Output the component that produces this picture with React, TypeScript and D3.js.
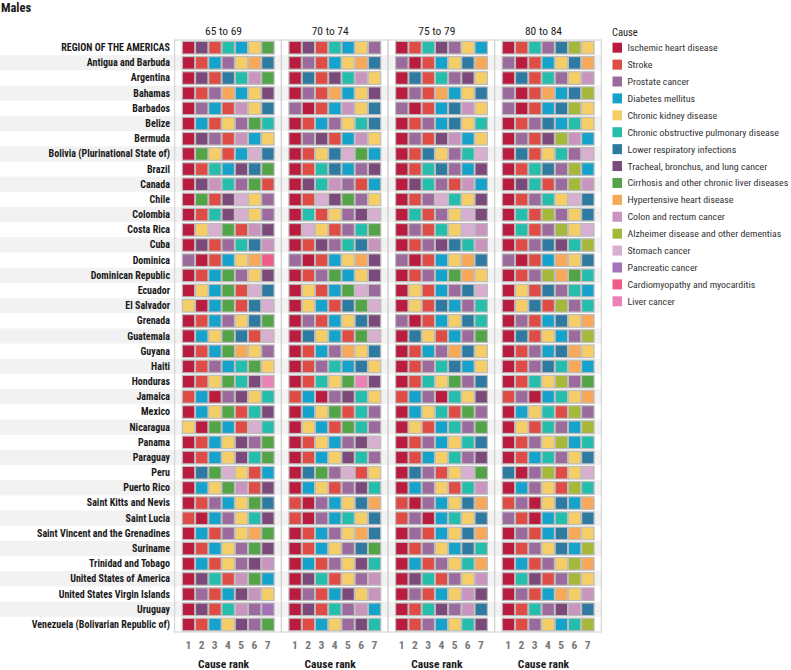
import * as d3 from "d3";

// Leading causes of death, males, ranked 1..7 per age group
const ageGroups = ["65 to 69", "70 to 74", "75 to 79", "80 to 84"];
const ranks = ["1", "2", "3", "4", "5", "6", "7"];

const countries = [
  "REGION OF THE AMERICAS",
  "Antigua and Barbuda",
  "Argentina",
  "Bahamas",
  "Barbados",
  "Belize",
  "Bermuda",
  "Bolivia (Plurinational State of)",
  "Brazil",
  "Canada",
  "Chile",
  "Colombia",
  "Costa Rica",
  "Cuba",
  "Dominica",
  "Dominican Republic",
  "Ecuador",
  "El Salvador",
  "Grenada",
  "Guatemala",
  "Guyana",
  "Haiti",
  "Honduras",
  "Jamaica",
  "Mexico",
  "Nicaragua",
  "Panama",
  "Paraguay",
  "Peru",
  "Puerto Rico",
  "Saint Kitts and Nevis",
  "Saint Lucia",
  "Saint Vincent and the Grenadines",
  "Suriname",
  "Trinidad and Tobago",
  "United States of America",
  "United States Virgin Islands",
  "Uruguay",
  "Venezuela (Bolivarian Republic of)",
];

const causes = [
  "Ischemic heart disease",
  "Stroke",
  "Prostate cancer",
  "Diabetes mellitus",
  "Chronic kidney disease",
  "Chronic obstructive pulmonary disease",
  "Lower respiratory infections",
  "Tracheal, bronchus, and lung cancer",
  "Cirrhosis and other chronic liver diseases",
  "Hypertensive heart disease",
  "Colon and rectum cancer",
  "Alzheimer disease and other dementias",
  "Stomach cancer",
  "Pancreatic cancer",
  "Cardiomyopathy and myocarditis",
  "Liver cancer",
];

// one letter per cause, same order as causes
const causeCodes = ["I", "S", "P", "D", "K", "C", "L", "T", "H", "Y", "R", "A", "G", "N", "M", "V"];

const causeColors = [
  "#b91c3f", "#df4b45", "#9b6b9e", "#16a3cb", "#f5ce67", "#25bdac", "#2f7aa0", "#7c4a7a",
  "#52a447", "#f7a959", "#c995be", "#a5b83a", "#d8afd0", "#a472b9", "#ee5d89", "#eb82b7",
];

// each string = causes at rank 1..7, one string per country
const rank6569 = [
  "ITSCDKH", "ISDPKYL", "ITSLCRH", "ISPYDKT", "IPDSRKL", "IDSKPHC", "ITPSRDK", "IHKSDGL",
  "ISCDTLH", "ITRCPHS", "IHSTGKP", "ISCTGKP", "IKGHSRT", "ITSPCLR", "PISDKYM", "ISDHPKT",
  "IKDHSGL", "KIDHSLG", "ISDPKLH", "IDKHLSG", "ISDHYKP", "ISPDCHK", "ISKHCTV", "SDIPTKC",
  "IDKHSCT", "KIHDSGC", "ISDKTPH", "ISDKTCH", "ILHGKSD", "IDKHRST", "ISPDKHL", "SIDPKCT",
  "IDSPKYH", "ISDKPHT", "IDSKPTR", "ITCSRHD", "IPSDTRK", "ITSCRPN", "ISDKTPH",
];

const rank7074 = [
  "ITSCDKP", "IPSDKYL", "ILSTCRK", "IPSYDKT", "PISDRKL", "ISDPKCL", "IPTSDRK", "ISKLGHD",
  "ISCLDPT", "ITCRPSD", "ISGTHPK", "ICSKPTG", "IGKSPCH", "ISTPCLR", "PISDKYT", "ISPHDKT",
  "IKSDHGP", "IKDSLHG", "IPSDKLT", "ILKDSHG", "ISDPYKL", "ISPCDLK", "ISCKHVT", "SDIPTCK",
  "IDKHSCP", "IKDSHCP", "ISKDPTG", "ISDKTCP", "ILHPGSK", "IDKSPTC", "SIPDKLY", "SIPDCKL",
  "ISDPKYL", "ISDKPLH", "IDSPKTC", "ITCSKPR", "IPSDTKR", "ITSCPRD", "ISDKPTC",
];

const rank7579 = [
  "ISCTPKD", "PISDKLY", "ILSCPTK", "IPSYDKL", "PISDLRK", "ISPDLKC", "IPSTRDK", "ISLKPCG",
  "ISCLPDT", "ITCPSRD", "ISPGCKT", "ICSPKGT", "IPSCKGR", "ISPTLCR", "PISDKYL", "ISPDHYK",
  "IKSDPLG", "IKSLDPC", "PISDKLC", "ILKSDPH", "ISDPYLK", "ISPCLDK", "ISCKHPL", "SDPICKT",
  "IDKCSHP", "IKSDCPH", "ISPDKCL", "ISDKCPT", "ILPSKGH", "IDPKSCR", "SIPDKLY", "SPIDCKL",
  "IPSDKLY", "ISPKDLC", "IDSPKCY", "ITCSPKR", "IPSDKRT", "ISCTPRL", "ISPDKCT",
];

const rank8084 = [
  "ISCPLAK", "PISDKLY", "ILSCPKR", "PISYDLA", "PISDLAK", "ISPLDCK", "IPSTARD", "ILSKCPG",
  "ISCLPAD", "ITCSPAR", "ISPCKGL", "ICSAPKL", "ICSPAKG", "ISPLTCA", "PISDYKL", "ISPAYHC",
  "IKSLPCD", "IKLSAPC", "IPSDLKY", "ILSKDPA", "ISPDLYK", "ISPLCYD", "ISCKAPH", "SPIDCKY",
  "IDKCSAP", "IKSCPDA", "ISPKADC", "ISDCPKL", "LIPASKG", "IDPKSAC", "SPIKLDY", "PSIDCKL",
  "IPSDLYK", "ISPKLDA", "IDSPKAY", "ICTSPAK", "IPSDYKR", "ISCPTRL", "ISPKDCA",
];

const rankTables = [rank6569, rank7074, rank7579, rank8084];

const FONT = "'Liberation Sans Narrow', 'Arial Narrow', 'Roboto Condensed', sans-serif";

export default function App() {
  const width = 791;
  const height = 670;

  const panelX = d3.scaleBand().domain(ageGroups).range([174.7, 601.3]);
  const rowY = d3.scaleBand().domain(countries).range([40, 632]);
  const rankX = d3.scaleBand().domain(ranks).range([7, 7 + 7 * 13.23]);
  const color = d3.scaleOrdinal<string, string>().domain(causeCodes).range(causeColors);
  const legendY = d3.scalePoint().domain(causes).range([47.7, 301.3]);

  const step = rowY.step();
  const panelW = panelX.bandwidth();

  return (
    <svg
      width={width}
      height={height}
      style={{ position: "absolute", left: 0, top: 0, fontFamily: FONT }}
    >
      <rect width={width} height={height} fill="#fff" />
      <text x={1} y={11.5} fontSize={12.5} fontWeight="bold" fill="#1a1a1a">
        Males
      </text>

      {/* row stripes */}
      {countries.map((c, i) =>
        i % 2 === 1 ? (
          <rect key={c} x={0} y={rowY(c)} width={601.3} height={step} fill="#f2f2f2" />
        ) : null
      )}

      {/* row labels */}
      {countries.map((c) => (
        <text
          key={c}
          x={170}
          y={(rowY(c) ?? 0) + step / 2}
          dy="0.35em"
          textAnchor="end"
          fontSize={10}
          fontWeight="bold"
          fill="#1a1a1a"
        >
          {c}
        </text>
      ))}

      {ageGroups.map((age, a) => {
        const px = panelX(age) ?? 0;
        const table = rankTables[a];
        return (
          <g key={age}>
            <rect
              x={px}
              y={40}
              width={panelW}
              height={592}
              fill="none"
              stroke="#cfcfcf"
              strokeWidth={1}
            />
            <text
              x={px + panelW / 2 - 4.5}
              y={31}
              dy="0.35em"
              textAnchor="middle"
              fontSize={11.5}
              fill="#222"
            >
              {age}
            </text>
            {countries.map((c, r) =>
              ranks.map((rk, k) => (
                <rect
                  key={c + rk}
                  x={px + (rankX(rk) ?? 0) + 0.6}
                  y={(rowY(c) ?? 0) + 1.4}
                  width={rankX.bandwidth() - 0.8}
                  height={step - 2.6}
                  fill={color(table[r][k])}
                  stroke="#bdbdbd"
                  strokeWidth={1.2}
                />
              ))
            )}
            {ranks.map((rk) => (
              <text
                key={rk}
                x={px + (rankX(rk) ?? 0) + rankX.bandwidth() / 2}
                y={645}
                dy="0.35em"
                textAnchor="middle"
                fontSize={11.5}
                fontWeight="bold"
                fill="#777"
              >
                {rk}
              </text>
            ))}
            <text
              x={px + panelW / 2 - 4.5}
              y={668}
              textAnchor="middle"
              fontSize={11.5}
              fontWeight="bold"
              fill="#1a1a1a"
            >
              Cause rank
            </text>
          </g>
        );
      })}

      {/* legend */}
      <text x={612} y={32} dy="0.35em" fontSize={10.5} fill="#222">
        Cause
      </text>
      {causes.map((c, i) => (
        <g key={c} transform={`translate(612.5,${legendY(c)})`}>
          <rect x={0} y={-5} width={9.5} height={10} fill={causeColors[i]} />
          <text x={15} y={0} dy="0.35em" fontSize={9.9} fill="#333">
            {c}
          </text>
        </g>
      ))}
    </svg>
  );
}
